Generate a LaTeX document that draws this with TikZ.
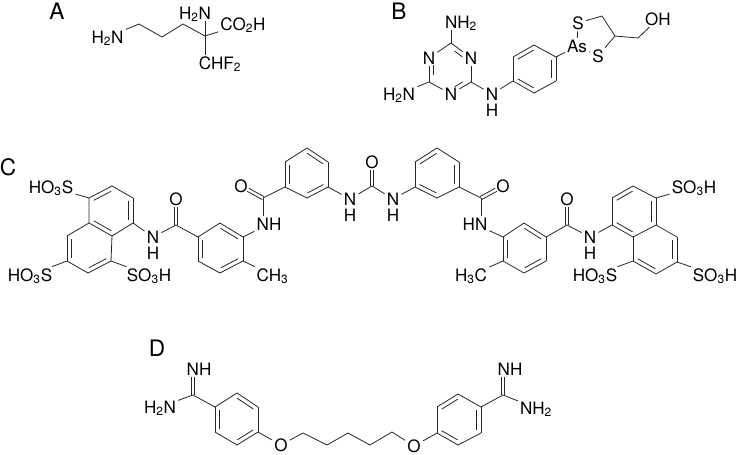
\documentclass[tikz,border=0pt]{standalone}
\usepackage{fontspec}
\setmainfont{TeX Gyre Heros}
\usetikzlibrary{calc}
\tikzset{
  atom/.style={font=\fontsize{12.8}{15}\selectfont,inner sep=1.5pt,text height=9pt,text depth=0pt},
  panel/.style={font=\fontsize{17}{20}\selectfont,inner sep=0pt},
  bond/.style={line width=0.6pt,black!85}
}
\newcommand{\low}[1]{\textsubscript{#1}}
\newcommand{\ringdbl}[3][.12]{
  \draw [bond] (#2) -- (#3);
  \draw [bond] ($(#2)!#1!(#3)!3.2pt!-90:(#3)$) -- ($(#3)!#1!(#2)!3.2pt!90:(#2)$);
}
\newcommand{\twobond}[3][6pt]{
  \draw [bond,shorten >=#1] ($(#2)!1.3pt!90:(#3)$) -- ($(#3)!1.3pt!-90:(#2)$);
  \draw [bond,shorten >=#1] ($(#2)!1.3pt!-90:(#3)$) -- ($(#3)!1.3pt!90:(#2)$);
}
\begin{document}
\begin{tikzpicture}[x=0.75pt,y=0.75pt,yscale=-1,xscale=1]
\useasboundingbox (0,0) rectangle (739,454);
\node [panel] (la) at (57,11) {A};
\node [panel] (lb) at (399,11) {B};
\node [panel] (lc) at (8,167) {C};
\node [panel] (ld) at (157,348) {D};

\node [atom] (anl) at (107.5,37) {H\low{2}N};
\node [atom] (ant) at (195,13) {H\low{2}N};
\node [atom] (aco) at (243,24) {CO\low{2}H};
\node [atom] (acf) at (220,63) {CHF\low{2}};
\coordinate (a1) at (139,24);
\coordinate (a2) at (162,37);
\coordinate (a3) at (183,24);
\coordinate (a4) at (205,36);
\draw [bond] (anl) -- (a1) -- (a2) -- (a3) -- (a4) -- (aco);
\draw [bond] (a4) -- (ant.south -| a4);
\draw [bond] (a4) -- (acf.north -| a4);

\node [atom] (bnt) at (461,22) {NH\low{2}};
\node [atom] (bnl) at (399,94) {H\low{2}N};
\node [atom] (bn1) at (429,58) {N};
\node [atom] (bn2) at (471,58) {N};
\node [atom] (bn3) at (451,94) {N};
\node [atom] (bnh) at (492,94) {N};
\node [atom] (bhh) at (492,110) {H};
\node [atom] (bas) at (577,46) {As};
\node [atom] (bs1) at (578,23) {S};
\node [atom] (bs2) at (598,56) {S};
\node [atom] (boh) at (658,19) {OH};
\coordinate (b1) at (451,43);
\coordinate (b2) at (429,82);
\coordinate (b3) at (471,82);
\coordinate (b4) at (534,45);
\coordinate (b5) at (513,57);
\coordinate (b6) at (513,81);
\coordinate (b7) at (534,93);
\coordinate (b8) at (556,81);
\coordinate (b9) at (556,57);
\coordinate (b10) at (602,16);
\coordinate (b11) at (615,36);
\coordinate (b12) at (638,38);
\draw [bond] (b1) -- (bnt.south -| b1);
\draw [bond] (b1) -- (bn1);
\draw [bond] (b2) -- (bn3);
\draw [bond] (b3) -- (bn2);
\draw [bond] (b2) -- (bnl);
\draw [bond] (b3) -- (bnh) -- (b6);
\ringdbl[.3]{bn1}{b2}
\ringdbl[.3]{bn3}{b3}
\ringdbl[.3]{bn2}{b1}
\ringdbl{b4}{b5}
\ringdbl{b6}{b7}
\ringdbl{b8}{b9}
\draw [bond] (b5) -- (b6);
\draw [bond] (b7) -- (b8);
\draw [bond] (b9) -- (b4);
\draw [bond] (b9) -- (bas) -- (bs1) -- (b10) -- (b11) -- (bs2) -- (bas);
\draw [bond] (b11) -- (b12) -- (boh);

\node [atom] (cs1) at (51,187) {HO\low{3}S};
\node [atom] (cs2) at (30,275) {HO\low{3}S};
\node [atom] (cs3) at (149,275) {SO\low{3}H};
\node [atom] (cn1) at (153,237) {N};
\node [atom] (ch1) at (153,253) {H};
\node [atom] (co1) at (176,199) {O};
\node [atom] (cn2) at (269,224) {NH};
\node [atom] (cme1) at (272.5,275) {CH\low{3}};
\node [atom] (co2) at (241,186) {O};
\node [atom] (cn3) at (350,199) {N};
\node [atom] (ch3) at (350,215) {H};
\node [atom] (co3) at (372,162) {O};
\node [atom] (cn4) at (393,199) {N};
\node [atom] (ch4) at (393,215) {H};
\node [atom] (co4) at (503,186) {O};
\node [atom] (cn5) at (475,224) {HN};
\node [atom] (cme2) at (471,275) {H\low{3}C};
\node [atom] (co5) at (567,199) {O};
\node [atom] (cn6) at (590,237) {N};
\node [atom] (ch6) at (590,253) {H};
\node [atom] (cs4) at (694,187) {SO\low{3}H};
\node [atom] (cs5) at (595,275) {HO\low{3}S};
\node [atom] (cs6) at (715,275) {SO\low{3}H};

\coordinate (na) at (89,198);
\coordinate (nb) at (112,186);
\coordinate (nc) at (133,198);
\coordinate (nd) at (133,223);
\coordinate (ne) at (112,236);
\coordinate (nf) at (89,223);
\coordinate (ng) at (67,236);
\coordinate (nh) at (67,261);
\coordinate (ni) at (88,273);
\coordinate (nj) at (111,261);
\ringdbl{nb}{na}
\ringdbl{nf}{ne}
\ringdbl{nd}{nc}
\ringdbl{ng}{nh}
\ringdbl{ni}{nj}
\draw [bond] (na) -- (nf) -- (ng);
\draw [bond] (nh) -- (ni);
\draw [bond] (nj) -- (ne) -- (nd);
\draw [bond] (nc) -- (nb);
\draw [bond] (na) -- (cs1);
\draw [bond] (nh) -- (cs2);
\draw [bond] (nj) -- (cs3);

\coordinate (k1) at (176,225);
\coordinate (k2) at (263,198);
\coordinate (k3) at (372,186);
\coordinate (k4) at (481,198);
\coordinate (k5) at (567,225);
\draw [bond] (nd) -- (cn1) -- (k1);
\twobond{k1}{co1}
\twobond{k2}{co2}
\twobond{k3}{co3}
\twobond{k4}{co4}
\twobond{k5}{co5}

\coordinate (r1) at (220,223);
\coordinate (r2) at (198,237);
\coordinate (r3) at (198,261);
\coordinate (r4) at (220,273);
\coordinate (r5) at (243,261);
\coordinate (r6) at (243,237);
\ringdbl{r2}{r3}
\ringdbl{r4}{r5}
\ringdbl{r6}{r1}
\draw [bond] (r1) -- (r2);
\draw [bond] (r3) -- (r4);
\draw [bond] (r5) -- (r6);
\draw [bond] (k1) -- (r2);
\draw [bond] (r5) -- (cme1);
\draw [bond] (r6) -- (cn2);
\draw [bond] (k2) -- (cn2.north -| k2);

\coordinate (s1) at (307,148);
\coordinate (s2) at (285,162);
\coordinate (s3) at (285,187);
\coordinate (s4) at (307,198);
\coordinate (s5) at (328,187);
\coordinate (s6) at (328,162);
\ringdbl{s2}{s3}
\ringdbl{s4}{s5}
\ringdbl{s6}{s1}
\draw [bond] (s1) -- (s2);
\draw [bond] (s3) -- (s4);
\draw [bond] (s5) -- (s6);
\draw [bond] (k2) -- (s3);
\draw [bond] (s5) -- (cn3) -- (k3) -- (cn4);

\coordinate (t1) at (437,148);
\coordinate (t2) at (415,162);
\coordinate (t3) at (415,187);
\coordinate (t4) at (437,198);
\coordinate (t5) at (459,187);
\coordinate (t6) at (459,162);
\ringdbl{t1}{t2}
\ringdbl{t3}{t4}
\ringdbl{t5}{t6}
\draw [bond] (t2) -- (t3);
\draw [bond] (t4) -- (t5);
\draw [bond] (t6) -- (t1);
\draw [bond] (cn4) -- (t3);
\draw [bond] (t5) -- (k4);
\draw [bond] (k4) -- (cn5.north -| k4);

\coordinate (u1) at (524,223);
\coordinate (u2) at (503,237);
\coordinate (u3) at (503,261);
\coordinate (u4) at (524,273);
\coordinate (u5) at (546,261);
\coordinate (u6) at (546,237);
\ringdbl{u2}{u3}
\ringdbl{u4}{u5}
\ringdbl{u6}{u1}
\draw [bond] (u1) -- (u2);
\draw [bond] (u3) -- (u4);
\draw [bond] (u5) -- (u6);
\draw [bond] (cn5) -- (u2);
\draw [bond] (u3) -- (cme2);
\draw [bond] (u6) -- (k5) -- (cn6);

\coordinate (ma) at (656,198);
\coordinate (mb) at (633,186);
\coordinate (mc) at (612,198);
\coordinate (md) at (612,225);
\coordinate (me) at (633,237);
\coordinate (mf) at (656,225);
\coordinate (mg) at (677,237);
\coordinate (mh) at (677,262);
\coordinate (mi) at (656,274);
\coordinate (mj) at (633,261);
\ringdbl{mb}{mc}
\ringdbl{md}{me}
\ringdbl{mf}{ma}
\ringdbl{mj}{mi}
\ringdbl{mh}{mg}
\draw [bond] (mc) -- (md);
\draw [bond] (ma) -- (mb);
\draw [bond] (me) -- (mf);
\draw [bond] (me) -- (mj);
\draw [bond] (mi) -- (mh);
\draw [bond] (mg) -- (mf);
\draw [bond] (cn6) -- (md);
\draw [bond] (ma) -- (cs4);
\draw [bond] (mj) -- (cs5);
\draw [bond] (mh) -- (cs6);

\node [atom] (dnh1) at (199,369) {NH};
\node [atom] (dnl) at (160,407) {H\low{2}N};
\node [atom] (do1) at (281,445) {O};
\node [atom] (do2) at (414,446) {O};
\node [atom] (dnh2) at (510,369) {NH};
\node [atom] (dnr) at (536,408) {NH\low{2}};
\coordinate (d1) at (193,395);
\coordinate (d2) at (503,395);
\coordinate (d1t) at (dnh1.south -| d1);
\coordinate (d2t) at (dnh2.south -| d2);
\twobond[0pt]{d1}{d1t}
\twobond[0pt]{d2}{d2t}
\draw [bond] (dnl) -- (d1);
\draw [bond] (d2) -- (dnr);

\coordinate (p1) at (237,393);
\coordinate (p2) at (215,407);
\coordinate (p3) at (215,432);
\coordinate (p4) at (237,445);
\coordinate (p5) at (258,432);
\coordinate (p6) at (258,407);
\ringdbl{p2}{p3}
\ringdbl{p4}{p5}
\ringdbl{p6}{p1}
\draw [bond] (p1) -- (p2);
\draw [bond] (p3) -- (p4);
\draw [bond] (p5) -- (p6);
\draw [bond] (d1) -- (p2);

\coordinate (e1) at (303,433);
\coordinate (e2) at (327,445);
\coordinate (e3) at (348,433);
\coordinate (e4) at (370,445);
\coordinate (e5) at (392,432);
\draw [bond] (p5) -- (do1) -- (e1) -- (e2) -- (e3) -- (e4) -- (e5) -- (do2);

\coordinate (q1) at (458,394);
\coordinate (q2) at (437,407);
\coordinate (q3) at (437,433);
\coordinate (q4) at (458,445);
\coordinate (q5) at (481,433);
\coordinate (q6) at (481,407);
\ringdbl{q1}{q2}
\ringdbl{q3}{q4}
\ringdbl{q5}{q6}
\draw [bond] (q2) -- (q3);
\draw [bond] (q4) -- (q5);
\draw [bond] (q6) -- (q1);
\draw [bond] (do2) -- (q3);
\draw [bond] (q6) -- (d2);
\end{tikzpicture}
\end{document}
